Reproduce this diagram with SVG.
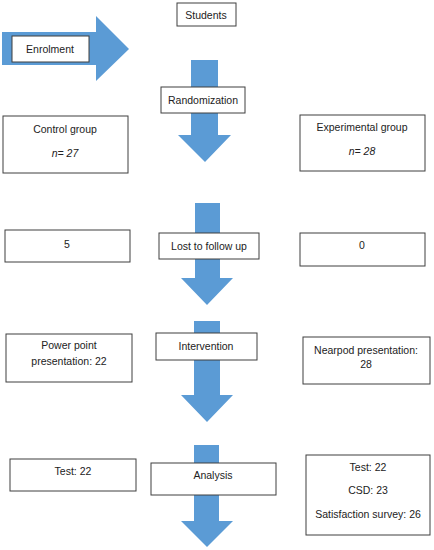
<svg xmlns="http://www.w3.org/2000/svg" width="434" height="550" viewBox="0 0 434 550">
<style>
.arrow{fill:#5b9bd5;stroke:none}
.box{fill:#fff;stroke:#3f3f3f;stroke-width:1}
text{font-family:"Liberation Sans",Arial,sans-serif;font-size:10.5px;fill:#222;text-anchor:middle}
.it{font-style:italic}
</style>
<rect width="434" height="550" fill="#fff"/>
<g id="connectors">
<polygon class="arrow" points="2,32 96,32 96,16 129,49 96,81 96,65 2,65"/>
<polygon class="arrow" points="191,60 218,60 218,135 231,135 205,162 178,135 191,135"/>
<polygon class="arrow" points="195,203 220,203 220,278 233,278 207,305 181,278 195,278"/>
<polygon class="arrow" points="194,321 220,321 220,395 233,395 207,422 181,395 194,395"/>
<polygon class="arrow" points="194,445 219,445 219,521 233,521 207,547 181,521 194,521"/>
</g>
<g id="enrolment"><rect class="box" x="12" y="36" width="77" height="26"/><text x="50" y="52.5">Enrolment</text></g>
<g id="students"><rect class="box" x="177" y="3" width="59" height="23"/><text x="206" y="18.5">Students</text></g>
<g id="randomization"><rect class="box" x="161" y="87" width="84" height="26"/><text x="203" y="103.5">Randomization</text></g>
<g id="control"><rect class="box" x="3" y="116" width="125" height="57"/><text x="65" y="132.5">Control group</text><text class="it" x="65" y="156.5">n= 27</text></g>
<g id="experimental"><rect class="box" x="300" y="115" width="125" height="56"/><text x="362" y="130.5">Experimental group</text><text class="it" x="362" y="154.5">n= 28</text></g>
<g id="lost-control"><rect class="box" x="5" y="230" width="125" height="32"/><text x="67" y="247.5">5</text></g>
<g id="lost"><rect class="box" x="159" y="233" width="100" height="26"/><text x="209" y="249.5">Lost to follow up</text></g>
<g id="lost-exp"><rect class="box" x="300" y="233" width="125" height="33"/><text x="362" y="248.5">0</text></g>
<g id="powerpoint"><rect class="box" x="6" y="334" width="126" height="48"/><text x="69" y="348.5">Power point</text><text x="69" y="364.5">presentation: 22</text></g>
<g id="intervention"><rect class="box" x="156" y="333" width="101" height="27"/><text x="206" y="349.5">Intervention</text></g>
<g id="nearpod"><rect class="box" x="303" y="337" width="127" height="47"/><text x="366" y="353.5">Nearpod presentation:</text><text x="366" y="367.5">28</text></g>
<g id="test-control"><rect class="box" x="10" y="459" width="126" height="32"/><text x="73" y="474.5">Test: 22</text></g>
<g id="analysis"><rect class="box" x="151" y="463" width="125" height="32"/><text x="213" y="478.5">Analysis</text></g>
<g id="test-exp"><rect class="box" x="306" y="455" width="124" height="80"/><text x="368" y="470.5">Test: 22</text><text x="368" y="493.5">CSD: 23</text><text x="368" y="517.5">Satisfaction survey: 26</text></g>
</svg>
